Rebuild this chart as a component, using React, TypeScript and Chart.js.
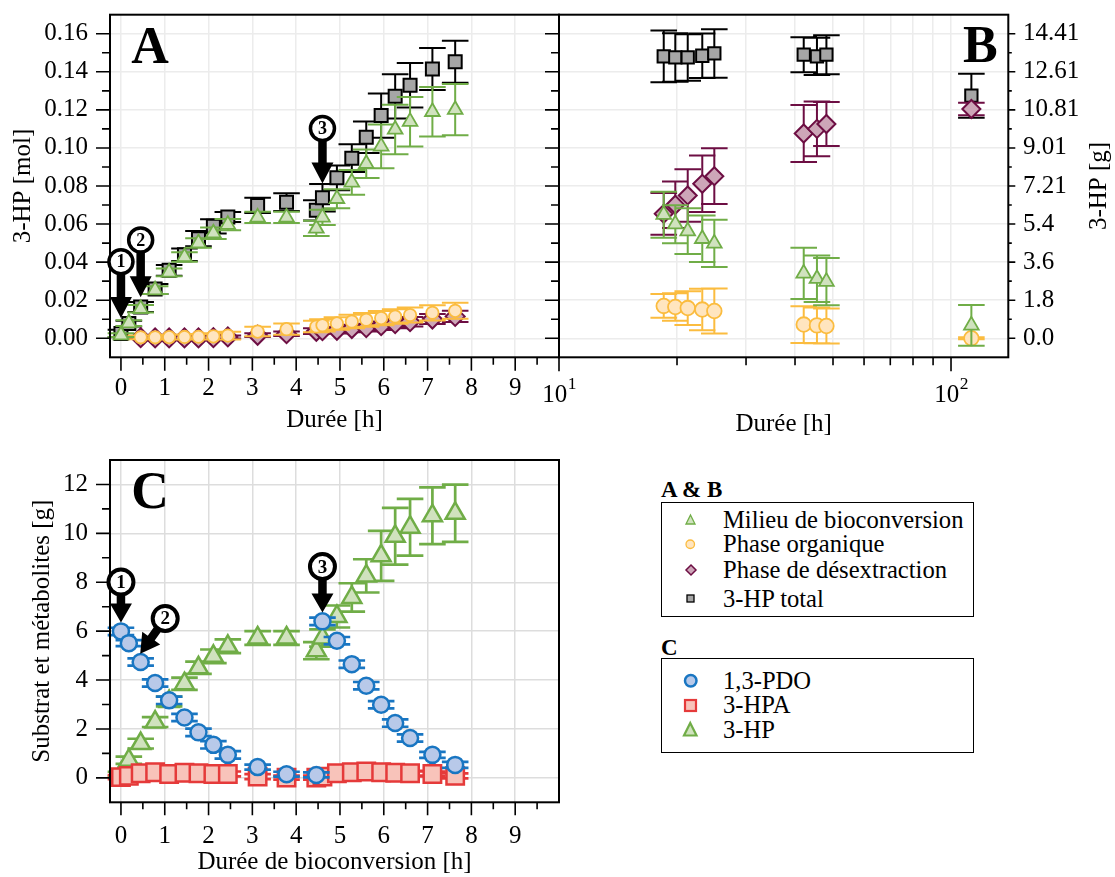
import React, { useEffect, useRef } from 'react';
import { Chart, registerables } from 'chart.js';

Chart.register(...registerables);

const SERIF = '"Liberation Serif", "Times New Roman", Times, serif';
Chart.defaults.font.family = SERIF;
Chart.defaults.color = '#000';

// ---------------- Panel A : 3-HP [mol] vs durée [h] ----------------
const hoursA = [0, 0.18, 0.45, 0.78, 1.1, 1.45, 1.77, 2.11, 2.44, 3.12, 3.78, 4.46, 4.6, 4.93, 5.27, 5.6, 5.94, 6.26, 6.6, 7.11, 7.63];
const totalMol = [0.0025, 0.0077, 0.0164, 0.0259, 0.0357, 0.0439, 0.0523, 0.0588, 0.0637, 0.0698, 0.0715, 0.0672, 0.0738, 0.0843, 0.0946, 0.1056, 0.117, 0.1271, 0.1329, 0.1415, 0.1453];
const totalMolErr = [0.002, 0.0015, 0.0026, 0.0026, 0.0028, 0.0033, 0.004, 0.0037, 0.0026, 0.004, 0.0047, 0.0053, 0.0072, 0.0065, 0.0073, 0.0083, 0.0116, 0.0116, 0.0117, 0.011, 0.011];
const milieuMol = [0.0017, 0.008, 0.0155, 0.0253, 0.0346, 0.0427, 0.05, 0.0552, 0.0597, 0.0635, 0.0635, 0.0577, 0.0635, 0.0733, 0.0819, 0.0917, 0.1008, 0.1097, 0.1138, 0.119, 0.1201];
const milieuMolErr = [0.001, 0.0015, 0.002, 0.002, 0.002, 0.0025, 0.0025, 0.003, 0.003, 0.003, 0.003, 0.004, 0.004, 0.005, 0.0065, 0.0075, 0.0115, 0.013, 0.013, 0.013, 0.0135];
const hoursPhases = [0.45, 0.78, 1.1, 1.45, 1.77, 2.11, 2.44, 3.12, 3.78, 4.46, 4.6, 4.93, 5.27, 5.6, 5.94, 6.26, 6.6, 7.11, 7.63];
const organiqueMol = [0.0005, 0.0005, 0.0006, 0.0007, 0.0008, 0.001, 0.0014, 0.0035, 0.0048, 0.0062, 0.0068, 0.0078, 0.0088, 0.0097, 0.0106, 0.0114, 0.0122, 0.0134, 0.0144];
const organiqueMolErr = [0.001, 0.001, 0.0012, 0.0013, 0.0015, 0.0017, 0.002, 0.0025, 0.003, 0.003, 0.0032, 0.0033, 0.0035, 0.0036, 0.0037, 0.0038, 0.0039, 0.004, 0.0042];
const desextractionMol = [0.0003, 0.0002, 0.0002, 0.0002, 0.0002, 0.0003, 0.0007, 0.0016, 0.0024, 0.0037, 0.004, 0.0042, 0.0051, 0.0056, 0.0066, 0.0077, 0.0087, 0.0101, 0.0115];
const desextractionMolErr = [0.0005, 0.0005, 0.0005, 0.0005, 0.0005, 0.0006, 0.0008, 0.001, 0.0012, 0.0015, 0.0015, 0.0017, 0.002, 0.002, 0.0022, 0.0024, 0.0025, 0.0026, 0.003];

// ---------------- Panel B : 3-HP [g] vs durée [h] (log) ----------------
const hoursB = [18.5, 19.8, 21.3, 23.2, 24.9, 42.1, 45.5, 48.1, 112.7];
const totalG = [13.34, 13.29, 13.29, 13.37, 13.48, 13.42, 13.34, 13.42, 11.48];
const totalGErr = [1.22, 1.15, 1.1, 1.05, 1.15, 0.83, 0.88, 0.92, 1.04];
const milieuG = [5.85, 5.4, 5.07, 4.71, 4.49, 3.07, 2.82, 2.68, 0.61];
const milieuGErr = [1.09, 0.9, 1.08, 1.1, 1.12, 1.21, 1.1, 1.12, 0.97];
const organiqueG = [1.53, 1.48, 1.43, 1.36, 1.29, 0.65, 0.61, 0.58, 0.0];
const organiqueGErr = [0.56, 0.65, 0.8, 0.98, 1.06, 0.87, 0.85, 0.83, 0.05];
const desextractionG = [5.89, 6.32, 6.76, 7.31, 7.67, 9.69, 9.91, 10.14, 10.85];
const desextractionGErr = [0.99, 1.1, 1.24, 1.34, 1.32, 1.35, 1.29, 1.04, 0.3];

// ---------------- Panel C : substrat et métabolites [g] ----------------
const pdoG = [5.99, 5.51, 4.74, 3.88, 3.17, 2.47, 1.86, 1.35, 0.94, 0.44, 0.15, 0.12, 6.4, 5.61, 4.65, 3.77, 2.99, 2.24, 1.63, 0.94, 0.53];
const pdoGErr = [0.15, 0.12, 0.15, 0.15, 0.15, 0.15, 0.15, 0.15, 0.15, 0.1, 0.1, 0.1, 0.15, 0.15, 0.15, 0.15, 0.15, 0.15, 0.15, 0.12, 0.12];
const hpaG = [0.03, 0.08, 0.19, 0.23, 0.16, 0.21, 0.19, 0.16, 0.16, 0.05, 0.01, 0.01, 0.05, 0.19, 0.23, 0.26, 0.23, 0.21, 0.19, 0.16, 0.08];
const hpaGErr = [0.08, 0.08, 0.1, 0.1, 0.1, 0.1, 0.1, 0.1, 0.1, 0.1, 0.08, 0.08, 0.08, 0.1, 0.1, 0.1, 0.1, 0.1, 0.1, 0.1, 0.1];
const hpG = [0.15, 0.72, 1.4, 2.28, 3.12, 3.85, 4.5, 4.97, 5.38, 5.72, 5.72, 5.2, 5.72, 6.6, 7.38, 8.26, 9.08, 9.88, 10.25, 10.72, 10.82];
const hpGErr = [0.1, 0.15, 0.2, 0.2, 0.2, 0.25, 0.25, 0.28, 0.28, 0.28, 0.28, 0.35, 0.35, 0.45, 0.58, 0.68, 1.02, 1.16, 1.16, 1.16, 1.17];

// ---------------- Ticks ----------------
const MOLAR_MASS_3HP = 90.08;
const hourTicks = [0, 1, 2, 3, 4, 5, 6, 7, 8, 9];
const hourTickLabels = ['0', '1', '2', '3', '4', '5', '6', '7', '8', '9'];
const hourMinorTicks = [0.5, 1.5, 2.5, 3.5, 4.5, 5.5, 6.5, 7.5, 8.5, 9.5];
const molTicks = [0, 0.02, 0.04, 0.06, 0.08, 0.1, 0.12, 0.14, 0.16];
const molTickLabels = ['0.00', '0.02', '0.04', '0.06', '0.08', '0.10', '0.12', '0.14', '0.16'];
const molMinorTicks = [0.01, 0.03, 0.05, 0.07, 0.09, 0.11, 0.13, 0.15];
const gramTicks = molTicks.map((v) => v * MOLAR_MASS_3HP);
const gramMinorTicks = molMinorTicks.map((v) => v * MOLAR_MASS_3HP);
const gramTickLabels = ['0.0', '1.8', '3.6', '5.4', '7.21', '9.01', '10.81', '12.61', '14.41'];
const logMajorTicks = [10, 100];
const logTickBases = ['10', '10'];
const logTickExps = ['1', '2'];
const logMinorTicks = [20, 30, 40, 50, 60, 70, 80, 90];
const cTicks = [0, 2, 4, 6, 8, 10, 12];
const cTickLabels = ['0', '2', '4', '6', '8', '10', '12'];
const cMinorTicks = [1, 3, 5, 7, 9, 11];

const COLORS = {
  milieu: { stroke: '#70AD47', fill: '#D0E2BE' },
  organique: { stroke: '#FBBC3F', fill: '#FFE5BF' },
  desextraction: { stroke: '#6D0E43', fill: '#CDA6B8' },
  total: { stroke: '#000000', fill: '#A6A6A6' },
  pdo: { stroke: '#1976C2', fill: '#B8C9E9' },
  hpa: { stroke: '#E53A3A', fill: '#F8C3BA' },
  hp: { stroke: '#70AD47', fill: '#D0E2BE' },
};

const FS = 25;

function series(xs: number[], ys: number[], errs: number[], color: any, pointStyle: string, radius: number, bw: number) {
  return {
    data: xs.map((x, i) => ({ x, y: ys[i] })),
    errorBars: errs,
    pointStyle,
    pointRadius: radius,
    pointBorderWidth: bw,
    pointBackgroundColor: color.fill,
    pointBorderColor: color.stroke,
    borderColor: color.stroke,
    backgroundColor: color.fill,
    showLine: false,
    clip: false,
  };
}

function makeErrorBars(lineWidth: number, capHalf: number) {
  return {
    id: 'errorBars',
    beforeDatasetDraw(chart: any, args: any) {
      const ds = chart.data.datasets[args.index];
      if (!ds.errorBars) return;
      const meta = args.meta;
      const xs = chart.scales[meta.xAxisID];
      const ys = chart.scales[meta.yAxisID];
      const ctx = chart.ctx;
      ctx.save();
      ctx.strokeStyle = ds.borderColor;
      ctx.lineWidth = lineWidth;
      ctx.lineCap = 'butt';
      ctx.beginPath();
      ds.data.forEach((p: any, i: number) => {
        const e = ds.errorBars[i];
        const x = xs.getPixelForValue(p.x);
        const y1 = ys.getPixelForValue(p.y + e);
        const y2 = ys.getPixelForValue(p.y - e);
        ctx.moveTo(x, y1);
        ctx.lineTo(x, y2);
        ctx.moveTo(x - capHalf, y1);
        ctx.lineTo(x + capHalf, y1);
        ctx.moveTo(x - capHalf, y2);
        ctx.lineTo(x + capHalf, y2);
      });
      ctx.stroke();
      ctx.restore();
    },
  };
}

function drawArrow(ctx: any, x1: number, y1: number, x2: number, y2: number, shaft: number, headW: number, headL: number) {
  const dx = x2 - x1, dy = y2 - y1;
  const L = Math.hypot(dx, dy);
  const ux = dx / L, uy = dy / L;
  const nx = -uy, ny = ux;
  const bx = x2 - ux * headL, by = y2 - uy * headL;
  ctx.beginPath();
  ctx.moveTo(x1 + nx * shaft / 2, y1 + ny * shaft / 2);
  ctx.lineTo(bx + nx * shaft / 2, by + ny * shaft / 2);
  ctx.lineTo(bx + nx * headW / 2, by + ny * headW / 2);
  ctx.lineTo(x2, y2);
  ctx.lineTo(bx - nx * headW / 2, by - ny * headW / 2);
  ctx.lineTo(bx - nx * shaft / 2, by - ny * shaft / 2);
  ctx.lineTo(x1 - nx * shaft / 2, y1 - ny * shaft / 2);
  ctx.closePath();
  ctx.fill();
}

function makeDeco(cfg: any) {
  return {
    id: 'deco',
    afterDraw(chart: any) {
      const ctx = chart.ctx;
      const a = chart.chartArea;
      const xs = chart.scales.x;
      const ys = chart.scales.y;
      ctx.save();
      ctx.strokeStyle = '#000';
      ctx.fillStyle = '#000';
      ctx.lineCap = 'butt';
      ctx.lineWidth = 1.6;
      for (const t of cfg.ticks) {
        const s = chart.scales[t.axis];
        ctx.beginPath();
        for (const v of t.values) {
          const p = s.getPixelForValue(v);
          if (t.side === 'bottom') { ctx.moveTo(p, a.bottom); ctx.lineTo(p, a.bottom + t.len); }
          else if (t.side === 'left') { ctx.moveTo(a.left - t.len, p); ctx.lineTo(a.left, p); }
          else if (t.side === 'right') { ctx.moveTo(a.right, p); ctx.lineTo(a.right + t.len, p); }
          else { ctx.moveTo(a.right - t.len, p); ctx.lineTo(a.right, p); }
        }
        ctx.stroke();
      }
      ctx.lineWidth = 2;
      ctx.strokeRect(a.left, a.top, a.right - a.left, a.bottom - a.top);

      if (cfg.logLabels) {
        const L = cfg.logLabels;
        ctx.textBaseline = 'alphabetic';
        ctx.textAlign = 'left';
        L.values.forEach((v: number, i: number) => {
          const px = xs.getPixelForValue(v);
          ctx.font = `${FS}px ${SERIF}`;
          const w1 = ctx.measureText(L.bases[i]).width;
          ctx.font = `17.5px ${SERIF}`;
          const w2 = ctx.measureText(L.exps[i]).width;
          const x0 = px - (w1 + w2) / 2;
          ctx.font = `${FS}px ${SERIF}`;
          ctx.fillText(L.bases[i], x0, L.baseline);
          ctx.font = `17.5px ${SERIF}`;
          ctx.fillText(L.exps[i], x0 + w1 + 0.5, L.baseline - 13);
        });
      }

      if (cfg.rightTitle) {
        const t = cfg.rightTitle;
        ctx.save();
        ctx.translate(t.x, (a.top + a.bottom) / 2);
        ctx.rotate(-Math.PI / 2);
        ctx.font = `${FS}px ${SERIF}`;
        ctx.textAlign = 'center';
        ctx.textBaseline = 'middle';
        ctx.fillText(t.text, 0, 0);
        ctx.restore();
      }

      if (cfg.letter) {
        const l = cfg.letter;
        ctx.font = `bold 52px ${SERIF}`;
        ctx.textAlign = 'center';
        ctx.textBaseline = 'middle';
        const x = l.fromRight ? a.right - l.dx : a.left + l.dx;
        ctx.fillText(l.text, x, a.top + l.dy);
      }

      if (cfg.arrows) {
        const st = cfg.arrowStyle;
        for (const ar of cfg.arrows) {
          const cx = xs.getPixelForValue(ar.cx), cy = ys.getPixelForValue(ar.cy);
          const tx = xs.getPixelForValue(ar.tx), ty = ys.getPixelForValue(ar.ty);
          const d = Math.hypot(tx - cx, ty - cy);
          const ux = (tx - cx) / d, uy = (ty - cy) / d;
          ctx.fillStyle = '#000';
          drawArrow(ctx, cx + ux * st.r, cy + uy * st.r, tx, ty, st.shaft, st.headW, st.headL);
          ctx.beginPath();
          ctx.arc(cx, cy, st.r, 0, Math.PI * 2);
          ctx.fillStyle = '#fff';
          ctx.fill();
          ctx.lineWidth = st.lw;
          ctx.strokeStyle = '#000';
          ctx.stroke();
          ctx.fillStyle = '#000';
          ctx.font = `bold ${st.font}px ${SERIF}`;
          ctx.textAlign = 'center';
          ctx.textBaseline = 'middle';
          ctx.fillText(ar.label, cx, cy + 1);
        }
      }
      ctx.restore();
    },
  };
}

const tickFont = { family: SERIF, size: FS };
const titleFont = { family: SERIF, size: FS };

function linearX(height: number, labelPad: number, title: string, titlePad: number, grid: string) {
  return {
    type: 'linear',
    min: -0.25,
    max: 10,
    bounds: 'data',
    afterBuildTicks: (s: any) => { s.ticks = hourTicks.map((v) => ({ value: v })); },
    afterFit: (s: any) => { s.height = height; s.paddingLeft = 0; s.paddingRight = 0; },
    ticks: { callback: (_v: any, i: number) => hourTickLabels[i], font: tickFont, color: '#000', padding: labelPad, autoSkip: false, maxRotation: 0, minRotation: 0 },
    grid: { color: grid, lineWidth: 1.5, drawTicks: false },
    border: { display: false },
    title: { display: true, text: title, font: titleFont, color: '#000', padding: { top: 0, bottom: titlePad } },
  };
}

function baseOptions(padding: any, scales: any) {
  return {
    responsive: false,
    maintainAspectRatio: false,
    animation: false,
    devicePixelRatio: 1,
    events: [],
    layout: { padding },
    plugins: { legend: { display: false }, tooltip: { enabled: false } },
    scales,
  };
}

const GRID_AB = '#ececec';
const GRID_C = '#dddddd';

function makeA() {
  return {
    type: 'scatter',
    data: {
      datasets: [
        series(hoursA, milieuMol, milieuMolErr, COLORS.milieu, 'triangle', 8.5, 1.8),
        series(hoursPhases, organiqueMol, organiqueMolErr, COLORS.organique, 'circle', 6.2, 1.8),
        series(hoursPhases, desextractionMol, desextractionMolErr, COLORS.desextraction, 'rectRot', 9.5, 2),
        series(hoursA, totalMol, totalMolErr, COLORS.total, 'rect', 9.2, 2),
      ],
    },
    options: baseOptions({ left: 0, top: 14.7, right: 21, bottom: 0 }, {
      x: linearX(87.7, 16, 'Durée [h]', 10, GRID_AB),
      y: {
        type: 'linear', min: -0.01, max: 0.17, bounds: 'data',
        afterBuildTicks: (s: any) => { s.ticks = molTicks.map((v) => ({ value: v })); },
        afterFit: (s: any) => { s.width = 110; s.paddingTop = 0; s.paddingBottom = 0; },
        ticks: { callback: (_v: any, i: number) => molTickLabels[i], font: tickFont, color: '#000', padding: 22, autoSkip: false },
        grid: { color: GRID_AB, lineWidth: 1.5, drawTicks: false },
        border: { display: false },
        title: { display: true, text: '3-HP [mol]', font: titleFont, color: '#000', padding: { top: 8, bottom: 0 } },
      },
    }),
    plugins: [
      makeErrorBars(2, 13.3),
      makeDeco({
        ticks: [
          { axis: 'x', side: 'bottom', values: hourTicks, len: 13.5 },
          { axis: 'x', side: 'bottom', values: hourMinorTicks, len: 7.5 },
          { axis: 'y', side: 'left', values: molTicks, len: 14 },
          { axis: 'y', side: 'left', values: molMinorTicks, len: 8 },
          { axis: 'y', side: 'rightIn', values: molTicks, len: 14 },
          { axis: 'y', side: 'rightIn', values: molMinorTicks, len: 8 },
        ],
        letter: { text: 'A', dx: 40, dy: 34.5 },
        arrows: [
          { label: '1', cx: 0, cy: 0.0402, tx: 0, ty: 0.0107 },
          { label: '2', cx: 0.45, cy: 0.0516, tx: 0.45, ty: 0.0215 },
          { label: '3', cx: 4.6, cy: 0.1102, tx: 4.6, ty: 0.0813 },
        ],
        arrowStyle: { r: 12, lw: 3.5, shaft: 8.5, headW: 22, headL: 21, font: 18 },
      }),
    ],
  };
}

function makeB() {
  return {
    type: 'scatter',
    data: {
      datasets: [
        series(hoursB, milieuG, milieuGErr, COLORS.milieu, 'triangle', 8.5, 1.8),
        series(hoursB, organiqueG, organiqueGErr, COLORS.organique, 'circle', 7.3, 1.8),
        series(hoursB, desextractionG, desextractionGErr, COLORS.desextraction, 'rectRot', 9, 2),
        series(hoursB, totalG, totalGErr, COLORS.total, 'rect', 8.7, 2),
      ],
    },
    options: baseOptions({ left: 19, top: 14.7, right: 0, bottom: 0 }, {
      x: {
        type: 'logarithmic', min: 10, max: 140, bounds: 'data',
        afterBuildTicks: (s: any) => { s.ticks = [...logMajorTicks, ...logMinorTicks].sort((p, q) => p - q).map((v) => ({ value: v })); },
        afterFit: (s: any) => { s.height = 87.7; s.paddingLeft = 0; s.paddingRight = 0; },
        ticks: { display: false },
        grid: { color: GRID_AB, lineWidth: 1.5, drawTicks: false },
        border: { display: false },
        title: { display: true, text: 'Durée [h]', font: titleFont, color: '#000', padding: { top: 0, bottom: 6 } },
      },
      y: {
        type: 'linear', position: 'right', min: -0.01 * MOLAR_MASS_3HP, max: 0.17 * MOLAR_MASS_3HP, bounds: 'data',
        afterBuildTicks: (s: any) => { s.ticks = gramTicks.map((v) => ({ value: v })); },
        afterFit: (s: any) => { s.width = 106.7; s.paddingTop = 0; s.paddingBottom = 0; },
        ticks: { callback: (_v: any, i: number) => gramTickLabels[i], font: tickFont, color: '#000', padding: 14.7, autoSkip: false },
        grid: { color: GRID_AB, lineWidth: 1.5, drawTicks: false },
        border: { display: false },
      },
    }),
    plugins: [
      makeErrorBars(2, 13.3),
      makeDeco({
        ticks: [
          { axis: 'x', side: 'bottom', values: logMajorTicks, len: 14 },
          { axis: 'x', side: 'bottom', values: logMinorTicks, len: 8 },
          { axis: 'y', side: 'right', values: gramTicks, len: 7 },
          { axis: 'y', side: 'right', values: gramMinorTicks, len: 3.5 },
        ],
        logLabels: { values: logMajorTicks, bases: logTickBases, exps: logTickExps, baseline: 401.7 },
        rightTitle: { text: '3-HP [g]', x: 559 },
        letter: { text: 'B', dx: 28, dy: 34, fromRight: true },
      }),
    ],
  };
}

function makeC() {
  return {
    type: 'scatter',
    data: {
      datasets: [
        series(hoursA, pdoG, pdoGErr, COLORS.pdo, 'circle', 8, 2.5),
        series(hoursA, hpaG, hpaGErr, COLORS.hpa, 'rect', 12.3, 2.5),
        series(hoursA, hpG, hpGErr, COLORS.hp, 'triangle', 11, 2.5),
      ],
    },
    options: baseOptions({ left: 0, top: 15, right: 21, bottom: 0 }, {
      x: linearX(74.7, 18.7, 'Durée de bioconversion [h]', 0, GRID_C),
      y: {
        type: 'linear', min: -1, max: 13, bounds: 'data',
        afterBuildTicks: (s: any) => { s.ticks = cTicks.map((v) => ({ value: v })); },
        afterFit: (s: any) => { s.width = 110; s.paddingTop = 0; s.paddingBottom = 0; },
        ticks: { callback: (_v: any, i: number) => cTickLabels[i], font: tickFont, color: '#000', padding: 22, autoSkip: false },
        grid: { color: GRID_C, lineWidth: 1.5, drawTicks: false },
        border: { display: false },
        title: { display: true, text: 'Substrat et métabolites [g]', font: titleFont, color: '#000', padding: { top: 27, bottom: 0 } },
      },
    }),
    plugins: [
      makeErrorBars(2.7, 13.3),
      makeDeco({
        ticks: [
          { axis: 'x', side: 'bottom', values: hourTicks, len: 13 },
          { axis: 'x', side: 'bottom', values: hourMinorTicks, len: 7 },
          { axis: 'y', side: 'left', values: cTicks, len: 14 },
          { axis: 'y', side: 'left', values: cMinorTicks, len: 8 },
        ],
        letter: { text: 'C', dx: 40, dy: 35 },
        arrows: [
          { label: '1', cx: 0, cy: 8.01, tx: 0, ty: 6.35 },
          { label: '2', cx: 1.01, cy: 6.52, tx: 0.44, ty: 5.08 },
          { label: '3', cx: 4.6, cy: 8.64, tx: 4.6, ty: 6.76 },
        ],
        arrowStyle: { r: 12.5, lw: 4, shaft: 8.5, headW: 22, headL: 19, font: 19 },
      }),
    ],
  };
}

function ChartCanvas({ left, top, width, height, make }: any) {
  const ref = useRef<HTMLCanvasElement | null>(null);
  useEffect(() => {
    const chart = new Chart(ref.current as any, make() as any);
    return () => chart.destroy();
  }, [make]);
  return <canvas ref={ref} width={width} height={height} style={{ position: 'absolute', left, top, width, height }} />;
}

function Marker({ kind, cx, cy, size, color, sw }: any) {
  const pad = 4;
  const S = size + pad * 2;
  const c = S / 2;
  const h = size / 2;
  let shape;
  if (kind === 'circle') shape = <circle cx={c} cy={c} r={h} />;
  else if (kind === 'square') shape = <rect x={c - h} y={c - h} width={size} height={size} />;
  else if (kind === 'diamond') shape = <polygon points={`${c},${c - h} ${c + h},${c} ${c},${c + h} ${c - h},${c}`} />;
  else shape = <polygon points={`${c},${c - h} ${c + h},${c + h} ${c - h},${c + h}`} />;
  return (
    <svg width={S} height={S} style={{ position: 'absolute', left: cx - c, top: cy - c, overflow: 'visible' }}>
      <g fill={color.fill} stroke={color.stroke} strokeWidth={sw}>{shape}</g>
    </svg>
  );
}

const legendAB = [
  { label: 'Milieu de bioconversion', kind: 'triangle', color: COLORS.milieu, size: 9, sw: 1.3, y: 519.5 },
  { label: 'Phase organique', kind: 'circle', color: COLORS.organique, size: 8.5, sw: 1.3, y: 544 },
  { label: 'Phase de désextraction', kind: 'diamond', color: COLORS.desextraction, size: 10, sw: 1.5, y: 569.5 },
  { label: '3-HP total', kind: 'square', color: COLORS.total, size: 7, sw: 1.3, y: 598.5 },
];
const legendC = [
  { label: '1,3-PDO', kind: 'circle', color: COLORS.pdo, size: 11.5, sw: 2.5, y: 680.5 },
  { label: '3-HPA', kind: 'square', color: COLORS.hpa, size: 11, sw: 2.2, y: 705 },
  { label: '3-HP', kind: 'triangle', color: COLORS.hp, size: 12.5, sw: 2.2, y: 729.5 },
];

function Legend() {
  const rows = (items: any[]) =>
    items.map((it) => (
      <React.Fragment key={it.label}>
        <Marker kind={it.kind} cx={690.7} cy={it.y} size={it.size} color={it.color} sw={it.sw} />
        <div style={{ position: 'absolute', left: 723, top: it.y - 15, height: 30, lineHeight: '30px', fontSize: 24.6, whiteSpace: 'nowrap', color: '#000' }}>{it.label}</div>
      </React.Fragment>
    ));
  return (
    <>
      <div style={{ position: 'absolute', left: 661, top: 490 - 15, height: 30, lineHeight: '30px', fontSize: 23, fontWeight: 'bold' }}>A &amp; B</div>
      <div style={{ position: 'absolute', left: 661, top: 502, width: 313, height: 115, border: '1.5px solid #000', boxSizing: 'border-box' }} />
      {rows(legendAB)}
      <div style={{ position: 'absolute', left: 661, top: 648.3 - 15, height: 30, lineHeight: '30px', fontSize: 23, fontWeight: 'bold' }}>C</div>
      <div style={{ position: 'absolute', left: 661, top: 658, width: 313, height: 95, border: '1.5px solid #000', boxSizing: 'border-box' }} />
      {rows(legendC)}
    </>
  );
}

export default function App() {
  return (
    <div style={{ position: 'absolute', left: 0, top: 0, width: 1115, height: 877, background: '#fff', fontFamily: SERIF, overflow: 'hidden' }}>
      <ChartCanvas left={0} top={0} width={580} height={445} make={makeA} />
      <ChartCanvas left={540} top={0} width={575} height={445} make={makeB} />
      <ChartCanvas left={0} top={445} width={580} height={432} make={makeC} />
      <Legend />
    </div>
  );
}
